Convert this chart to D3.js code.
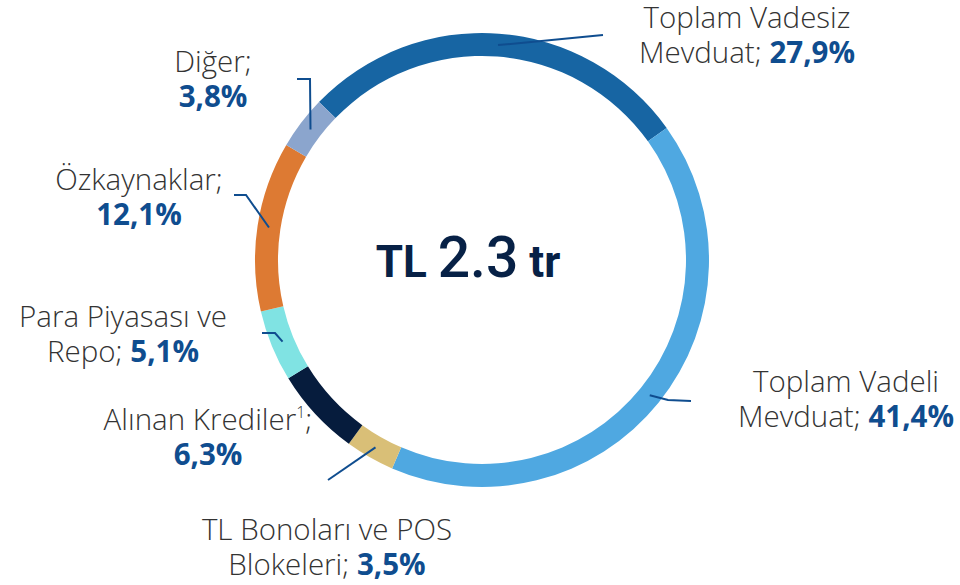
<!DOCTYPE html>
<html>
<head>
<meta charset="utf-8">
<script src="https://cdn.jsdelivr.net/npm/d3@7"></script>
<style>
  body { margin: 0; background: #fff; }
  .lab { font-family: "Open Sans", sans-serif; font-weight: 300; font-size: 29.5px; fill: #333; }
  .pct { font-weight: 700; fill: #0f4d8f; }
</style>
</head>
<body>
<script>
// data
var categories = ["Toplam Vadesiz Mevduat", "Toplam Vadeli Mevduat", "TL Bonoları ve POS Blokeleri",
                  "Alınan Krediler", "Para Piyasası ve Repo", "Özkaynaklar", "Diğer"];
var shares = [27.9, 41.4, 3.5, 6.3, 5.1, 12.1, 3.8];
var pctLabels = ["27,9%", "41,4%", "3,5%", "6,3%", "5,1%", "12,1%", "3,8%"];
var colors = ["#1765a3", "#4fa8e1", "#d9bf77", "#061c3d", "#80e3e3", "#dd7a33", "#8ba5cd"];

var w = 960, h = 585;
var cx = 482, cy = 260;
var rOut = 227, rIn = 204;
var startDeg = -45.9;

var svg = d3.select("body").append("svg")
    .attr("width", w)
    .attr("height", h);

var pie = d3.pie()
    .sort(null)
    .value(function(d) { return d; })
    .startAngle(startDeg * Math.PI / 180)
    .endAngle((startDeg + 360) * Math.PI / 180);

var arc = d3.arc().innerRadius(rIn).outerRadius(rOut);
var arcs = pie(shares);

var g = svg.append("g").attr("transform", "translate(" + cx + "," + cy + ")");

g.selectAll("path.slice")
  .data(arcs)
  .enter().append("path")
  .attr("class", "slice")
  .attr("d", arc)
  .attr("fill", function(d, i) { return colors[i]; });

// label layout: lines of text, anchor position, leader line bends (absolute px)
// line2 prefix is light text, followed by bold percentage
var layout = [
  { l1: "Toplam Vadesiz", l2: "Mevduat; ", x: 747, y: 28, lead: [[603, 35]] },
  { l1: "Toplam Vadeli", l2: "Mevduat; ", x: 846, y: 392, lead: [[668, 400], [691, 401]] },
  { l1: "TL Bonoları ve POS", l2: "Blokeleri; ", x: 327, y: 540, lead: [[328, 480]] },
  { l1: "Alınan Krediler", sup: "1", l1b: ";", l2: "", x: 208, y: 430, lead: null },
  { l1: "Para Piyasası ve", l2: "Repo; ", x: 123, y: 327, lead: [[275, 333], [262, 333]] },
  { l1: "Özkaynaklar;", l2: "", x: 139, y: 190, lead: [[246, 195], [234, 195]] },
  { l1: "Diğer;", l2: "", x: 213, y: 72, lead: [[310, 79], [297, 79]] }
];

var lineGenerator = d3.line();
var rMid = (rIn + rOut) / 2;
var midArc = d3.arc().innerRadius(rMid).outerRadius(rMid);

for (var i = 0; i < arcs.length; i++) {
    var L = layout[i];
    if (L.lead) {
        var c = midArc.centroid(arcs[i]);
        var pts = [[cx + c[0], cy + c[1]]].concat(L.lead);
        svg.append("path")
           .attr("d", lineGenerator(pts))
           .attr("stroke", "#0f4d8f")
           .attr("stroke-width", 2)
           .attr("fill", "none");
    }

    var t1 = svg.append("text")
       .attr("class", "lab")
       .attr("text-anchor", "middle")
       .attr("x", L.x)
       .attr("y", L.y);
    t1.append("tspan").text(L.l1);
    if (L.sup) {
        t1.append("tspan").text(L.sup).attr("font-size", "16px").attr("dy", -12);
        t1.append("tspan").text(L.l1b).attr("dy", 12);
    }

    var t2 = svg.append("text")
       .attr("class", "lab")
       .attr("text-anchor", "middle")
       .attr("x", L.x)
       .attr("y", L.y + 35);
    if (L.l2) t2.append("tspan").text(L.l2);
    t2.append("tspan").attr("class", "pct").text(pctLabels[i]);
}

// centre total
var ct = svg.append("text")
   .attr("x", 468)
   .attr("y", 277)
   .attr("text-anchor", "middle")
   .attr("fill", "#072146")
   .attr("font-family", "Roboto, sans-serif");
ct.append("tspan").text("TL ").attr("font-size", "44px").attr("font-weight", 700);
ct.append("tspan").text("2.3").attr("font-size", "57px").attr("font-weight", 500);
ct.append("tspan").text(" tr").attr("font-size", "44px").attr("font-weight", 700);
</script>
</body>
</html>
